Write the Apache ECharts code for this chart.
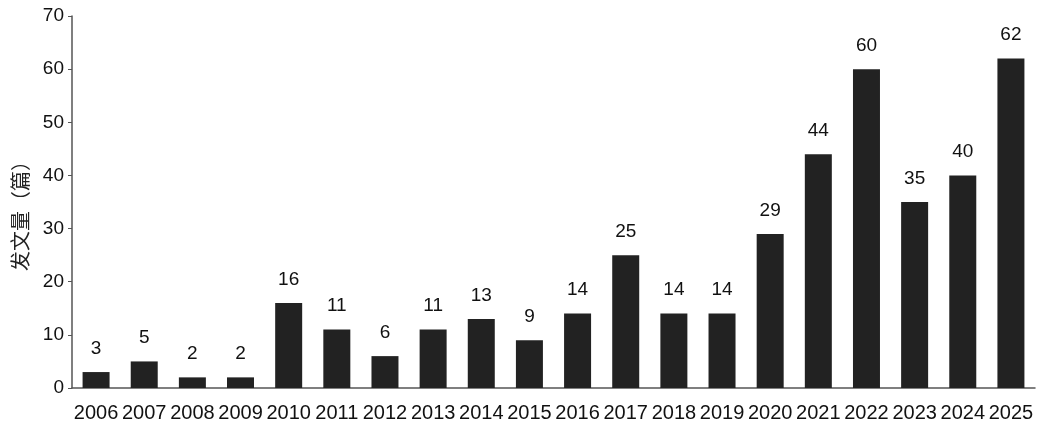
<!DOCTYPE html>
<html><head><meta charset="utf-8">
<script src="https://cdn.jsdelivr.net/npm/echarts@6/dist/echarts.min.js"></script>
<style>html,body{margin:0;padding:0;background:#fff}#c{width:1045px;height:429px}</style>
</head><body><div id="c"></div>
<script>
const years = ['2006','2007','2008','2009','2010','2011','2012','2013','2014','2015','2016','2017','2018','2019','2020','2021','2022','2023','2024','2025'];
const counts = [3,5,2,2,16,11,6,11,13,9,14,25,14,14,29,44,60,35,40,62];
const yTicks = [0,10,20,30,40,50,60,70];
const yName = '发文量（篇）';
const font = 'Liberation Sans, Arial, sans-serif';
const chart = echarts.init(document.getElementById('c'));
chart.setOption({
  animation:false,
  grid:{left:72,right:10,top:16,bottom:41},
  xAxis:{type:'category',data:years,
    axisLine:{lineStyle:{color:'#555',width:1.5}},
    axisTick:{show:false},
    axisLabel:{color:'#111',fontSize:20,fontFamily:font,margin:15,interval:0}},
  yAxis:{type:'value',min:yTicks[0],max:yTicks[yTicks.length-1],interval:10,
    name:yName,nameLocation:'middle',nameGap:42,nameRotate:90,
    nameTextStyle:{color:'#222',fontSize:20,fontFamily:'Noto Sans CJK SC',padding:[0,18,0,0]},
    axisLine:{show:true,lineStyle:{color:'#555',width:1.5}},
    axisTick:{show:true,length:4,lineStyle:{color:'#555'}},
    splitLine:{show:false},
    axisLabel:{color:'#111',fontSize:19,fontFamily:font,margin:8}},
  series:[{type:'bar',data:counts,barWidth:27,
    itemStyle:{color:'#222'},
    label:{show:true,position:'top',distance:14,color:'#111',fontSize:19,fontFamily:font}}]
});
</script></body></html>
